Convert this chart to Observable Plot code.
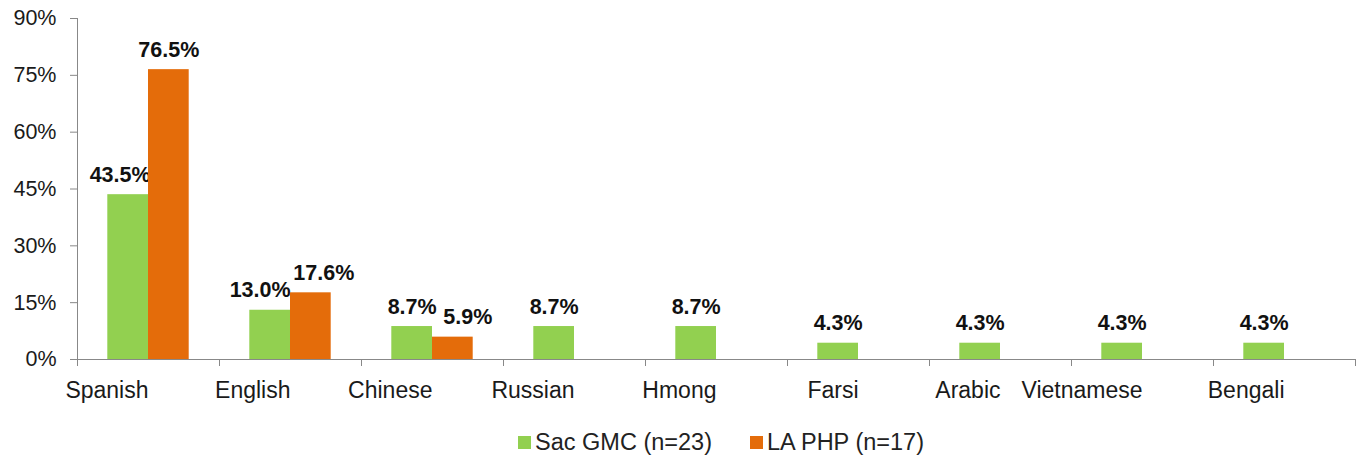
<!DOCTYPE html>
<html><head><meta charset="utf-8">
<script src="https://cdn.jsdelivr.net/npm/d3@7"></script>
<script src="https://cdn.jsdelivr.net/npm/@observablehq/plot@0.6"></script>
<style>
body{margin:0;background:#fff;font-family:"Liberation Sans",Arial,sans-serif;}
#legend{box-sizing:border-box;width:1364px;height:35px;padding-top:9px;padding-left:78px;display:flex;justify-content:center;align-items:center;font-size:23.5px;color:#222;line-height:26px;}
.item{display:flex;align-items:center;margin:0 19px;}
.sw{width:13px;height:13px;margin-right:4px;}
</style></head><body>
<div id="chart"></div>
<div id="legend"></div>
<script>
const languages = ["Spanish","English","Chinese","Russian","Hmong","Farsi","Arabic","Vietnamese","Bengali"];
const seriesNames = ["Sac GMC (n=23)","LA PHP (n=17)"];
const sacGMC = [43.5,13.0,8.7,8.7,8.7,4.3,4.3,4.3,4.3];
const laPHP  = [76.5,17.6,5.9,null,null,null,null,null,null];
const yTicks = [0,15,30,45,60,75,90];

const colors = ["#92D050","#E46C0A"];
const W = 1364, H = 420, ML = 77, MR = 9, MT = 18, MB = 61;
const step = (W - ML - MR) / languages.length;
const half = step / 2;
const bw = 40.7;

const seriesValues = [sacGMC, laPHP];
const rows = [];
seriesNames.forEach((s, si) => languages.forEach((l, li) => {
  const v = seriesValues[si][li];
  if (v != null) rows.push({language: l, series: s, si, value: v});
}));

// label nudges to avoid overlapping (as in the original)
const nudge = {"Spanish|0": -8, "English|0": -10, "English|1": 13, "Chinese|1": 15};

const marks = [];
seriesNames.forEach((s, si) => {
  const data = rows.filter(d => d.si === si);
  marks.push(Plot.barY(data, {
    x: "language", y: "value", fill: colors[si],
    insetLeft: si === 0 ? half - bw : half,
    insetRight: si === 0 ? half : half - bw
  }));
  const groups = d3.group(data, d => nudge[d.language + "|" + si] || 0);
  for (const [n, g] of groups) {
    marks.push(Plot.text(g, {
      x: "language", y: "value", text: d => d.value.toFixed(1) + "%",
      dx: (si === 0 ? -bw / 2 : bw / 2) + n, dy: -13, lineAnchor: "bottom",
      fontWeight: "bold", fontSize: 21.5, fill: "#111"
    }));
  }
});

const chart = Plot.plot({
  width: W, height: H,
  marginLeft: ML, marginRight: MR, marginTop: MT, marginBottom: MB,
  style: {fontFamily: '"Liberation Sans", Arial, sans-serif', background: "#fff"},
  x: {domain: languages, padding: 0, axis: null},
  y: {domain: [0, 90], axis: null},
  marks: [
    Plot.axisY({ticks: yTicks, tickFormat: d => d + "%", tickSize: 7, tickPadding: 14,
      stroke: "#888", fontSize: 21.5, fill: "#1a1a1a", label: null}),
    Plot.frame({anchor: "left", stroke: "#888"}),
    ...marks,
    Plot.ruleY([0], {stroke: "#888"}),
    Plot.ruleX(languages, {x: d => d, y1: 0, y2: 0, insetBottom: -7, dx: -half, stroke: "#888"}),
    Plot.ruleX(languages.slice(-1), {x: d => d, y1: 0, y2: 0, insetBottom: -7, dx: half, stroke: "#888"}),
    Plot.axisX({tickSize: 0, tickPadding: 22, textAnchor: "end", fontSize: 23, fill: "#1a1a1a", label: null})
  ]
});
document.getElementById("chart").appendChild(chart);

const leg = document.getElementById("legend");
seriesNames.forEach((s, i) => {
  const it = document.createElement("div");
  it.className = "item";
  it.innerHTML = `<span class="sw" style="background:${colors[i]}"></span><span>${s}</span>`;
  leg.appendChild(it);
});
</script>
</body></html>
